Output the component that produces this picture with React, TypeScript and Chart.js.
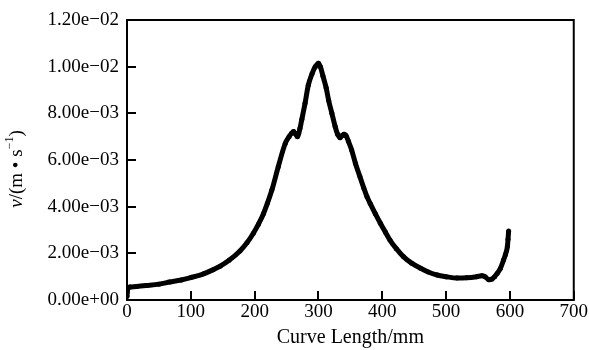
import React, { useEffect, useRef } from "react";
import { Chart, registerables } from "chart.js";

Chart.register(...registerables);

// Curve length (mm)
const curveLength: number[] = [
  0, 0.5, 1.5, 5, 15, 30, 50, 67, 85, 100, 120, 135, 146, 160, 177, 188, 198, 206, 214, 220,
  227, 237, 248, 254, 258, 261, 264, 267, 271, 274, 279, 284, 290, 295, 300, 303, 307, 312, 316,
  321, 326, 330, 334, 337, 340, 343, 347, 352, 358, 365, 371, 376, 381, 389, 397, 405, 412, 422,
  433, 446, 460, 472, 486, 500, 517, 532, 548, 556, 561, 567, 572, 576, 580, 585, 590, 593, 596,
  597, 598,
];

// Velocity (x 1e-3 m/s)
const velocityMilli: number[] = [
  0.15, 0.35, 0.52, 0.56, 0.58, 0.62, 0.68, 0.77, 0.86, 0.96, 1.12, 1.3, 1.45, 1.7, 2.1, 2.45,
  2.86, 3.25, 3.71, 4.15, 4.71, 5.71, 6.71, 7.0, 7.15, 7.22, 7.12, 7.0, 7.35, 7.75, 8.43, 9.2,
  9.7, 10.0, 10.15, 10.0, 9.6, 9.1, 8.55, 8.0, 7.45, 7.1, 6.95, 7.05, 7.1, 7.05, 6.8, 6.43, 5.85,
  5.28, 4.8, 4.43, 4.14, 3.7, 3.29, 2.9, 2.57, 2.2, 1.86, 1.58, 1.36, 1.2, 1.07, 1.0, 0.94, 0.95,
  1.0, 1.04, 1.0, 0.87, 0.9, 1.0, 1.14, 1.35, 1.71, 1.95, 2.29, 2.6, 2.96,
];

const xAxisMin = 0;
const xAxisMax = 700;
const xAxisStep = 100;
const yAxisMin = 0;
const yAxisMax = 0.012;
const yAxisStep = 0.002;
const xTitle = "Curve Length/mm";

const FONT = '"Liberation Serif", "Times New Roman", serif';

function formatSci(v: number): string {
  const s = v.toExponential(2);
  const [mant, exp] = s.split("e");
  const sign = exp.startsWith("-") ? "\u2212" : "+";
  const digits = exp.replace(/[+-]/, "").padStart(2, "0");
  return `${mant}e${sign}${digits}`;
}

const frameAndTicks = {
  id: "frameAndTicks",
  afterDraw(chart: any) {
    const { ctx, chartArea } = chart;
    const { left, right, top, bottom } = chartArea;
    ctx.save();
    ctx.strokeStyle = "#000";
    ctx.lineWidth = 2;
    ctx.strokeRect(left, top, right - left, bottom - top);
    const xs = chart.scales.x;
    const ys = chart.scales.y;
    const tl = 9;
    ctx.beginPath();
    xs.ticks.forEach((t: any) => {
      const px = Math.round(xs.getPixelForValue(t.value));
      ctx.moveTo(px, bottom);
      ctx.lineTo(px, bottom - tl);
    });
    ys.ticks.forEach((t: any) => {
      const py = Math.round(ys.getPixelForValue(t.value));
      ctx.moveTo(left, py);
      ctx.lineTo(left + tl, py);
    });
    ctx.stroke();
    ctx.restore();
  },
};

const yTitlePlugin = {
  id: "yTitlePlugin",
  afterDraw(chart: any) {
    const { ctx } = chart;
    const size = 19;
    const parts = [
      { text: "v", font: `italic ${size}px ${FONT}`, dy: 0 },
      { text: "/(m \u2022 s", font: `${size}px ${FONT}`, dy: 0 },
      { text: "\u22121", font: `${Math.round(size * 0.62)}px ${FONT}`, dy: -7 },
      { text: ")", font: `${size}px ${FONT}`, dy: 0 },
    ];
    ctx.save();
    let total = 0;
    const widths = parts.map((p) => {
      ctx.font = p.font;
      const w = ctx.measureText(p.text).width;
      total += w;
      return w;
    });
    ctx.translate(16, 169);
    ctx.rotate(-Math.PI / 2);
    ctx.fillStyle = "#000";
    ctx.textBaseline = "middle";
    ctx.textAlign = "left";
    let x = -total / 2;
    parts.forEach((p, i) => {
      ctx.font = p.font;
      ctx.fillText(p.text, x, p.dy + 1);
      x += widths[i];
    });
    ctx.restore();
  },
};

export default function App() {
  const canvasRef = useRef<HTMLCanvasElement | null>(null);

  useEffect(() => {
    if (!canvasRef.current) return;
    const points = curveLength.map((x, i) => ({ x, y: velocityMilli[i] / 1000 }));
    const chart = new Chart(canvasRef.current, {
      type: "scatter",
      data: {
        datasets: [
          {
            data: points,
            showLine: true,
            borderColor: "#000",
            backgroundColor: "#000",
            borderWidth: 5,
            pointRadius: 2.5,
            pointBorderWidth: 0,
            pointBackgroundColor: "#000",
            cubicInterpolationMode: "monotone",
          } as any,
        ],
      },
      options: {
        animation: false,
        responsive: false,
        devicePixelRatio: 1,
        layout: { padding: { top: 20, right: 13, left: 0, bottom: 0 } },
        plugins: {
          legend: { display: false },
          tooltip: { enabled: false },
        },
        scales: {
          x: {
            type: "linear",
            min: xAxisMin,
            max: xAxisMax,
            grid: { display: false, drawTicks: false },
            border: { display: false },
            ticks: {
              stepSize: xAxisStep,
              color: "#000",
              padding: 1,
              maxRotation: 0,
              font: { family: FONT, size: 19 },
            },
            title: {
              display: true,
              text: xTitle,
              color: "#000",
              padding: 0,
              font: { family: FONT, size: 20 },
            },
            afterFit: (scale: any) => {
              scale.height = 50;
            },
          },
          y: {
            type: "linear",
            min: yAxisMin,
            max: yAxisMax,
            grid: { display: false, drawTicks: false },
            border: { display: false },
            ticks: {
              stepSize: yAxisStep,
              color: "#000",
              padding: 8,
              font: { family: FONT, size: 19 },
              callback: (v: any) => formatSci(Number(v)),
            },
            afterFit: (scale: any) => {
              scale.width = 127;
            },
          },
        },
      },
      plugins: [frameAndTicks, yTitlePlugin],
    });
    return () => chart.destroy();
  }, []);

  return (
    <div style={{ position: "absolute", left: 0, top: 0, width: 589, height: 350, background: "#fff" }}>
      <canvas ref={canvasRef} width={589} height={350} style={{ width: 589, height: 350 }} />
    </div>
  );
}
